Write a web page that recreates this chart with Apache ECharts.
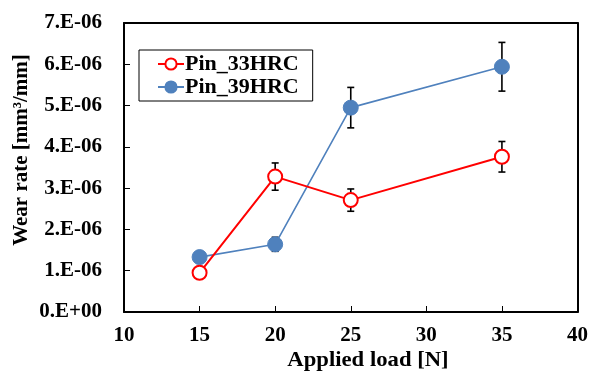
<!DOCTYPE html>
<html><head><meta charset="utf-8">
<script src="https://cdn.jsdelivr.net/npm/echarts@6/dist/echarts.min.js"></script>
<style>html,body{margin:0;padding:0;background:#fff}#c{width:591px;height:372px}</style>
</head><body><div id="c"></div>
<script>
const loads = [15, 20, 25, 35];
const pin33 = [0.95e-6, 3.28e-6, 2.71e-6, 3.76e-6];
const pin33Err = [0, 0.33e-6, 0.27e-6, 0.37e-6];
const pin39 = [1.33e-6, 1.64e-6, 4.95e-6, 5.94e-6];
const pin39Err = [0, 0.17e-6, 0.49e-6, 0.59e-6];
const seriesNames = ['Pin_33HRC', 'Pin_39HRC'];
const xTitle = 'Applied load [N]';
const yTitle = 'Wear rate [mm³/mm]';

const FONT = '"Liberation Serif","Times New Roman",serif';
const chart = echarts.init(document.getElementById('c'), null, {renderer: 'canvas'});

function errData(vals, errs) {
  return loads.map((x, i) => [x, vals[i] - errs[i], vals[i] + errs[i]]).filter((d, i) => errs[i] > 0);
}
function errSeries(data) {
  return {
    type: 'custom', z: 1, silent: true,
    data: data,
    renderItem: function (params, api) {
      const lo = api.coord([api.value(0), api.value(1)]);
      const hi = api.coord([api.value(0), api.value(2)]);
      const w = 3.5;
      const st = {stroke: '#000', lineWidth: 1.6};
      return {type: 'group', children: [
        {type: 'line', shape: {x1: lo[0], y1: lo[1], x2: hi[0], y2: hi[1]}, style: st},
        {type: 'line', shape: {x1: lo[0]-w, y1: lo[1], x2: lo[0]+w, y2: lo[1]}, style: st},
        {type: 'line', shape: {x1: hi[0]-w, y1: hi[1], x2: hi[0]+w, y2: hi[1]}, style: st}
      ]};
    }
  };
}

const labelStyle = {fontFamily: FONT, fontWeight: 'bold', fontSize: 21, color: '#000'};
const frameAxis = {
  axisLine: {show: true, onZero: false, lineStyle: {color: '#000', width: 2}},
  axisTick: {show: false}, axisLabel: {show: false}, splitLine: {show: false}
};

chart.setOption({
  animation: false,
  grid: {left: 124, right: 11, top: 23, bottom: 60, show: false},
  xAxis: [{
    type: 'value', min: 10, max: 40, interval: 5,
    axisLine: {show: true, onZero: false, lineStyle: {color: '#000', width: 2}},
    axisTick: {show: true, inside: true, length: 6, lineStyle: {color: '#000', width: 1}},
    splitLine: {show: false},
    axisLabel: Object.assign({margin: 13}, labelStyle)
  }, Object.assign({type: 'value', min: 10, max: 40, position: 'top'}, frameAxis)],
  yAxis: [{
    type: 'value', min: 0, max: 7e-6, interval: 1e-6,
    axisLine: {show: true, onZero: false, lineStyle: {color: '#000', width: 2}},
    axisTick: {show: true, inside: true, length: 6, lineStyle: {color: '#000', width: 1}},
    splitLine: {show: false},
    axisLabel: Object.assign({margin: 22, formatter: v => v === 0 ? '0.E+00' : Math.round(v * 1e6) + '.E-06'}, labelStyle)
  }, Object.assign({type: 'value', min: 0, max: 7e-6, position: 'right'}, frameAxis)],
  legend: {
    left: 139, top: 50,
    orient: 'vertical',
    data: seriesNames,
    borderColor: '#000', borderWidth: 1,
    padding: [3, 14, 3, 18],
    itemGap: 1, itemWidth: 26, itemHeight: 14,
    textStyle: Object.assign({}, labelStyle, {fontSize: 22, padding: [0, 0, 0, -4]})
  },
  graphic: [
    {type: 'text', x: 22, y: 150, rotation: Math.PI / 2,
      style: {text: yTitle, fontFamily: FONT, fontWeight: 'bold', fontSize: 21, fill: '#000', align: 'center', verticalAlign: 'middle'}},
    {type: 'text', x: 368, y: 361, scaleX: 1.08,
      style: {text: xTitle, fontFamily: FONT, fontWeight: 'bold', fontSize: 21, fill: '#000', align: 'center', verticalAlign: 'middle'}}
  ],
  series: [
    errSeries(errData(pin33, pin33Err)),
    errSeries(errData(pin39, pin39Err)),
    {
      name: seriesNames[1], type: 'line', z: 2,
      data: loads.map((x, i) => [x, pin39[i]]),
      symbol: 'circle', symbolSize: 15,
      lineStyle: {color: '#4f81bd', width: 1.6},
      itemStyle: {color: '#4f81bd', borderColor: '#4f81bd', borderWidth: 1}
    },
    {
      name: seriesNames[0], type: 'line', z: 3,
      data: loads.map((x, i) => [x, pin33[i]]),
      symbol: 'circle', symbolSize: 14,
      lineStyle: {color: '#ff0000', width: 2},
      itemStyle: {color: '#ffffff', borderColor: '#ff0000', borderWidth: 2}
    }
  ]
});
</script></body></html>
